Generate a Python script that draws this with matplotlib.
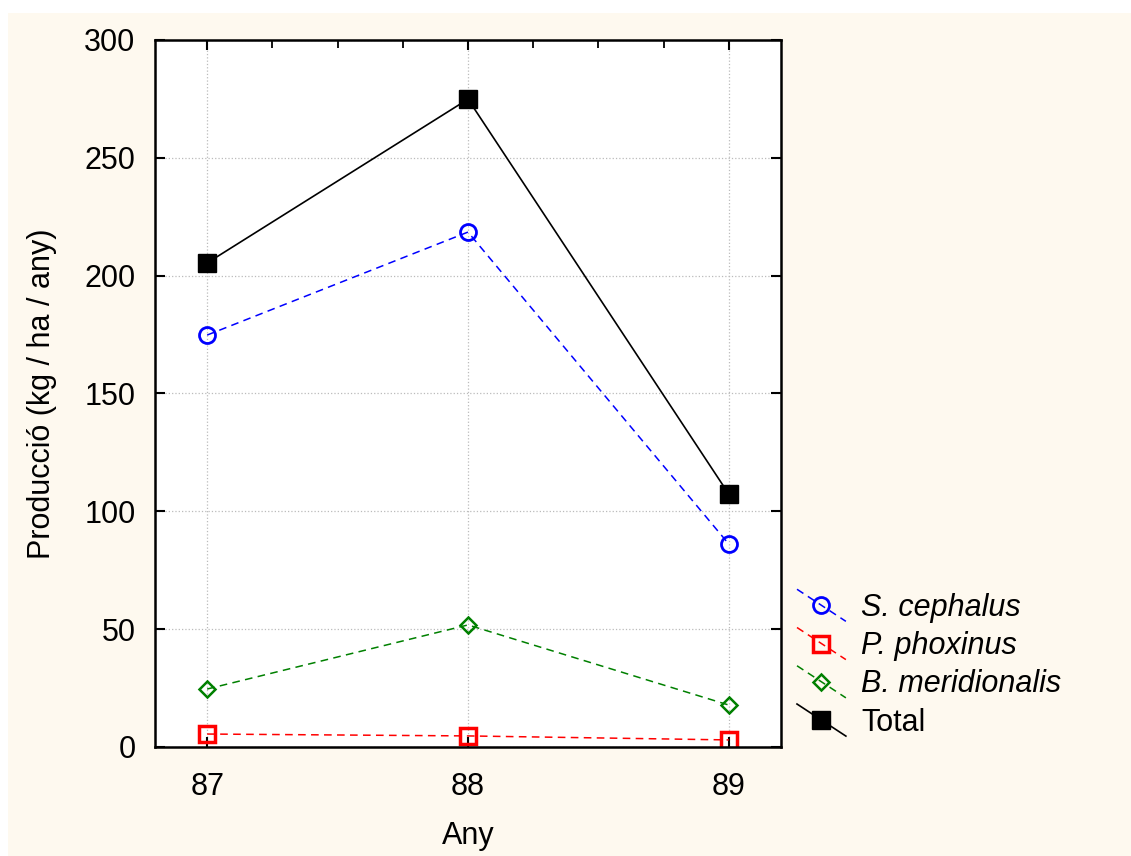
import matplotlib
matplotlib.use("Agg")
import matplotlib.pyplot as plt
from matplotlib.lines import Line2D
from matplotlib.patches import Rectangle
from matplotlib.legend_handler import HandlerLine2D
from matplotlib.ticker import MultipleLocator

plt.rcParams['font.family'] = ['Liberation Sans', 'DejaVu Sans']

years = [87, 88, 89]
s_cephalus = [174.8, 218.5, 86.1]
p_phoxinus = [5.5, 4.7, 3.0]
b_meridionalis = [24.6, 51.8, 17.8]
total = [205.4, 274.9, 107.3]
labels = ['S. cephalus', 'P. phoxinus', 'B. meridionalis', 'Total']
yticks = [0, 50, 100, 150, 200, 250, 300]

fig = plt.figure(figsize=(11.31, 8.56), dpi=100, facecolor='white')
fig.patches.append(Rectangle((8 / 1131, 0), 1 - 8 / 1131, 1 - 13 / 856,
                             transform=fig.transFigure, facecolor='#FEF9EF',
                             edgecolor='none', zorder=-10))
ax = fig.add_axes([155 / 1131, 1 - 747 / 856, (781 - 155) / 1131, (747 - 40) / 856])
ax.set_facecolor('white')

l1, = ax.plot(years, s_cephalus, color='#0000FF', linestyle=(0, (5, 3.5)), linewidth=1.1,
              marker='o', markersize=11.5, markerfacecolor='none', markeredgewidth=2.0)
l2, = ax.plot(years, p_phoxinus, color='#FF0000', linestyle=(0, (5, 3.5)), linewidth=1.1,
              marker='s', markersize=11, markerfacecolor='none', markeredgewidth=2.5)
l3, = ax.plot(years, b_meridionalis, color='#008000', linestyle=(0, (5, 3.5)), linewidth=1.1,
              marker='D', markersize=8.5, markerfacecolor='none', markeredgewidth=1.8)
l4, = ax.plot(years, total, color='black', linestyle='-', linewidth=1.2,
              marker='s', markersize=13, markerfacecolor='black', markeredgecolor='black')

ax.set_xlim(86.8, 89.2)
ax.set_ylim(0, 300)
ax.set_xticks(years)
ax.set_xticklabels([str(y) for y in years])
ax.set_yticks(yticks)
ax.xaxis.set_minor_locator(MultipleLocator(0.25))
ax.tick_params(axis='both', which='major', direction='in', length=7, width=1.5,
               labelsize=22, top=True, right=True, colors='black')
ax.tick_params(axis='x', which='major', pad=18)
ax.tick_params(axis='y', which='major', pad=14)
ax.tick_params(axis='x', which='minor', direction='in', length=6, width=1.3,
               bottom=False, top=True)
ax.grid(True, which='major', color='#BBBBBB', linestyle=':', linewidth=0.9)
ax.set_axisbelow(True)
for sp in ax.spines.values():
    sp.set_linewidth(1.8)
    sp.set_color('black')

ax.set_xlabel('Any', fontsize=22, labelpad=14)
ax.set_ylabel('Producció (kg / ha / any)', fontsize=22, labelpad=20)


class DiagHandler(HandlerLine2D):
    def create_artists(self, legend, orig_handle, xdescent, ydescent, width, height,
                       fontsize, trans):
        x0, x1 = -xdescent, -xdescent + width
        y0, y1 = -ydescent + height * 1.25, -ydescent - height * 0.25
        line = Line2D([x0, x1], [y0, y1])
        self.update_prop(line, orig_handle, legend)
        line.set_marker('None')
        mk = Line2D([(x0 + x1) / 2], [(y0 + y1) / 2])
        self.update_prop(mk, orig_handle, legend)
        mk.set_linestyle('None')
        line.set_transform(trans)
        mk.set_transform(trans)
        return [line, mk]


leg = fig.legend([l1, l2, l3, l4], labels, loc='upper left',
                 bbox_to_anchor=(797 / 1131, 1 - 593 / 856), frameon=False,
                 fontsize=22, handlelength=1.6, handletextpad=0.5, labelspacing=0.27,
                 borderaxespad=0, borderpad=0,
                 handler_map={Line2D: DiagHandler()})
for t in leg.get_texts()[:3]:
    t.set_fontstyle('italic')

fig.savefig('out.png', dpi=100, facecolor=fig.get_facecolor())
